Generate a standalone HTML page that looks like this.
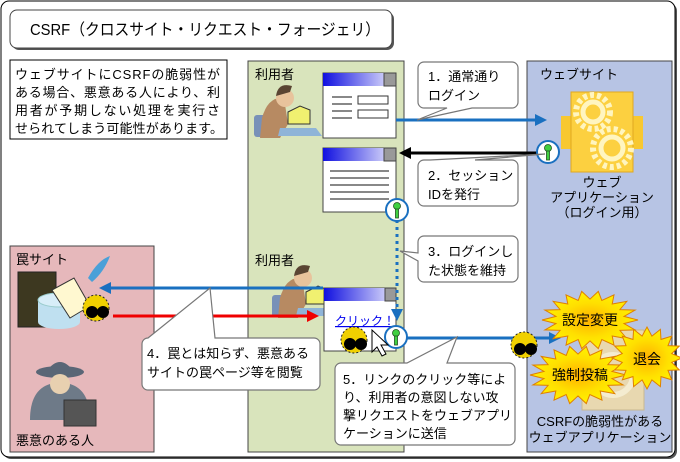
<!DOCTYPE html>
<html><head><meta charset="utf-8"><style>
*{margin:0;padding:0}
body{width:680px;height:462px;overflow:hidden;background:#fff;font-family:"Liberation Sans","Noto Sans CJK JP",sans-serif;}
svg{position:absolute;left:0;top:0}
text{font-family:"Liberation Sans","Noto Sans CJK JP",sans-serif;fill:#000}
</style></head><body>
<svg width="680" height="462" viewBox="0 0 680 462" id="s">
<defs>
<linearGradient id="tb" x1="0" x2="1"><stop offset="0" stop-color="#1010e0"/><stop offset="1" stop-color="#c8c8f8"/></linearGradient>
<radialGradient id="bg"><stop offset="0" stop-color="#ffb000"/><stop offset="0.6" stop-color="#ffe000"/><stop offset="1" stop-color="#fff200"/></radialGradient>
<marker id="ab" markerWidth="4" markerHeight="4" refX="3" refY="2" orient="auto" markerUnits="strokeWidth"><path d="M0,0L4,2L0,4z" fill="#1a70c0"/></marker>
<marker id="ak" markerWidth="4" markerHeight="4" refX="3" refY="2" orient="auto" markerUnits="strokeWidth"><path d="M0,0L4,2L0,4z" fill="#000"/></marker>
<marker id="ar" markerWidth="4" markerHeight="4" refX="3" refY="2" orient="auto" markerUnits="strokeWidth"><path d="M0,0L4,2L0,4z" fill="#f00000"/></marker>
<g id="key"><circle cx="0" cy="0" r="11" fill="#fff" stroke="#1a70c0" stroke-width="2"/><circle cx="0" cy="-4" r="3.5" fill="#40d040" stroke="#205020" stroke-width="0.8"/><rect x="-1.5" y="-1" width="3" height="9" fill="#40d040" stroke="#205020" stroke-width="0.8"/></g>
<g id="bug"><circle cx="0" cy="0" r="13" fill="#f0d000" stroke="#222" stroke-dasharray="2 2"/><circle cx="-4" cy="4" r="6" fill="#000"/><circle cx="7" cy="4" r="6" fill="#000"/></g>
</defs>
<rect x="3" y="3" width="674" height="456" rx="8" fill="#555"/>
<rect x="1" y="1" width="674" height="456" rx="8" fill="#fff" stroke="#000" stroke-width="1"/>
<rect x="12" y="12" width="382" height="38" rx="7" fill="#555"/>
<rect x="10" y="10" width="382" height="38" rx="7" fill="#fff" stroke="#444"/>
<text x="30" y="35" font-size="16" textLength="350" lengthAdjust="spacingAndGlyphs">CSRF（クロスサイト・リクエスト・フォージェリ）</text>
<rect x="10" y="60" width="217" height="79" fill="#fff" stroke="#000"/>
<text font-size="13"><tspan x="15" y="79" textLength="205">ウェブサイトにCSRFの脆弱性が</tspan><tspan x="15" y="97" textLength="205">ある場合、悪意ある人により、利</tspan><tspan x="15" y="115" textLength="205">用者が予期しない処理を実行さ</tspan><tspan x="15" y="133" textLength="208">せられてしまう可能性があります。</tspan></text>
<rect x="248" y="61" width="156" height="391" fill="#d9e4bc" stroke="#444"/>
<rect x="527" y="61" width="145" height="391" fill="#b7c4e4" stroke="#444"/>
<rect x="10" y="246" width="144" height="206" fill="#e6b8bb" stroke="#444"/>
<text x="255" y="79" font-size="13">利用者</text>
<text x="255" y="265" font-size="13">利用者</text>
<text x="540" y="79" font-size="13">ウェブサイト</text>
<text x="16" y="264" font-size="13">罠サイト</text>
<text x="16" y="445" font-size="13">悪意のある人</text>
<g id="user">
<rect x="254" y="115" width="14" height="22" rx="3" fill="#7891b8"/>
<path d="M262,118 q6,-22 22,-20 l4,26 l-8,14 l-20,0z" fill="#b78a62"/>
<circle cx="285" cy="98" r="9" fill="#e8c39c"/><path d="M276,96 q2,-14 16,-10 l-2,6z" fill="#5a4533"/>
<path d="M288,112 l12,-6 l10,4 l0,14 l-22,0z" fill="#f0f070" stroke="#333"/>
<path d="M280,128 l36,0 l6,8 l-44,0z" fill="#8fb4d8"/>
</g>
<use href="#user" transform="translate(18,180)"/>
<g><rect x="323" y="73" width="73" height="65" fill="#fff" stroke="#444"/><rect x="323" y="73" width="61" height="13" fill="url(#tb)"/><rect x="384" y="73" width="12" height="13" fill="#999" stroke="#444"/>
<g stroke="#888" stroke-width="2"><line x1="332" y1="97" x2="352" y2="97"/><line x1="332" y1="104" x2="352" y2="104"/><line x1="332" y1="111" x2="352" y2="111"/><line x1="332" y1="118" x2="352" y2="118"/></g>
<rect x="358" y="96" width="30" height="8" fill="#fff" stroke="#333"/><rect x="358" y="110" width="30" height="8" fill="#fff" stroke="#333"/></g>
<g><rect x="323" y="148" width="73" height="64" fill="#fff" stroke="#444"/><rect x="323" y="148" width="61" height="13" fill="url(#tb)"/><rect x="384" y="148" width="12" height="13" fill="#999" stroke="#444"/>
<g stroke="#888" stroke-width="2"><line x1="330" y1="171" x2="389" y2="171"/><line x1="330" y1="178" x2="389" y2="178"/><line x1="330" y1="185" x2="389" y2="185"/><line x1="330" y1="192" x2="389" y2="192"/><line x1="330" y1="199" x2="389" y2="199"/></g></g>
<g><rect x="324" y="288" width="72" height="63" fill="#fff" stroke="#444"/><rect x="324" y="288" width="61" height="13" fill="url(#tb)"/><rect x="385" y="288" width="11" height="13" fill="#999" stroke="#444"/>
<text x="335" y="325" font-size="12" style="fill:#0000ee" text-decoration="underline">クリック！</text></g>
<rect x="561" y="116" width="10" height="33" fill="#f8c830"/><rect x="633" y="116" width="10" height="33" fill="#f8c830"/>
<rect x="571" y="92" width="62" height="80" fill="#fcd040" stroke="#e0a820"/>
<circle cx="593" cy="112" r="17" fill="none" stroke="#fff5c0" stroke-width="6" stroke-dasharray="4 3"/><circle cx="593" cy="112" r="10" fill="none" stroke="#fff5c0" stroke-width="5"/>
<circle cx="612" cy="148" r="19" fill="none" stroke="#fff5c0" stroke-width="6" stroke-dasharray="4 3"/><circle cx="612" cy="148" r="11" fill="none" stroke="#fff5c0" stroke-width="5"/>
<text font-size="13" text-anchor="middle"><tspan x="602" y="187">ウェブ</tspan><tspan x="602" y="202">アプリケーション</tspan><tspan x="602" y="217">（ログイン用）</tspan></text>
<rect x="582" y="330" width="62" height="80" fill="#e8d8b0" stroke="#c8b890"/>
<circle cx="613" cy="375" r="20" fill="none" stroke="#f4ecd0" stroke-width="6"/>
<text font-size="13" text-anchor="middle"><tspan x="600" y="426">CSRFの脆弱性がある</tspan><tspan x="600" y="442">ウェブアプリケーション</tspan></text>
<rect x="18" y="272" width="38" height="55" fill="#3d3820" stroke="#222"/>
<ellipse cx="59" cy="322" rx="21" ry="7" fill="#bfe0f0"/><rect x="38" y="300" width="42" height="22" fill="#bfe0f0"/><ellipse cx="59" cy="300" rx="21" ry="7" fill="#d8eef8" stroke="#9cc"/>
<path d="M52,290 l22,-12 l16,28 l-20,12z" fill="#fff8d0" stroke="#333"/>
<path d="M88,278 q10,-18 22,-22 q-6,16 -18,26z" fill="#4aa0d8"/>
<path d="M30,420 q0,-30 20,-36 l20,0 q20,6 20,36z" fill="#6e7a88"/>
<ellipse cx="60" cy="372" rx="24" ry="6" fill="#5a6676"/><path d="M46,372 q14,-20 28,0z" fill="#5a6676"/>
<ellipse cx="60" cy="384" rx="10" ry="10" fill="#e8d0b0"/>
<rect x="64" y="400" width="32" height="26" fill="#555" stroke="#333"/>
<line x1="396" y1="120" x2="544" y2="120" stroke="#1a70c0" stroke-width="3" marker-end="url(#ab)"/>
<line x1="540" y1="153" x2="402" y2="153" stroke="#000" stroke-width="3" marker-end="url(#ak)"/>
<line x1="397" y1="220" x2="397" y2="318" stroke="#1a70c0" stroke-width="3" stroke-dasharray="3 4" marker-end="url(#ab)"/>
<line x1="323" y1="288" x2="102" y2="288" stroke="#1a70c0" stroke-width="3" marker-end="url(#ab)"/>
<line x1="113" y1="316" x2="316" y2="316" stroke="#f00000" stroke-width="3" marker-end="url(#ar)"/>
<line x1="405" y1="338" x2="558" y2="338" stroke="#1a70c0" stroke-width="3" marker-end="url(#ab)"/>
<use href="#key" x="548" y="152"/><use href="#key" x="397" y="210"/><use href="#key" x="396" y="337"/>
<use href="#bug" x="96" y="308"/><use href="#bug" x="354" y="340"/><use href="#bug" x="524" y="345"/>
<path d="M372,330 l0,22 l5,-5 l5,9 l4,-2 l-5,-9 l7,0z" fill="#fff" stroke="#000"/>
<g fill="#fff" stroke="#777" stroke-width="1.2">
<path d="M424,62 h88 a6,6 0 0 1 6,6 v34 a6,6 0 0 1 -6,6 h-40 l-55,12 l30,-12 h-23 a6,6 0 0 1 -6,-6 v-34 a6,6 0 0 1 6,-6z"/>
<path d="M424,160 h6 l115,-6 l-70,6 h37 a6,6 0 0 1 6,6 v34 a6,6 0 0 1 -6,6 h-88 a6,6 0 0 1 -6,-6 v-34 a6,6 0 0 1 6,-6z"/>
<path d="M424,236 h88 a6,6 0 0 1 6,6 v34 a6,6 0 0 1 -6,6 h-88 a6,6 0 0 1 -6,-6 v-15 l-18,-10 l18,2 v-11 a6,6 0 0 1 6,-6z"/>
<path d="M148,338 l62,-50 l5,50 h99 a6,6 0 0 1 6,6 v40 a6,6 0 0 1 -6,6 h-166 a6,6 0 0 1 -6,-6 v-40 a6,6 0 0 1 6,-6z"/>
<path d="M341,363 h66 l50,-26 l-10,26 h62 a6,6 0 0 1 6,6 v70 a6,6 0 0 1 -6,6 h-168 a6,6 0 0 1 -6,-6 v-70 a6,6 0 0 1 6,-6z"/>
</g>
<text font-size="13"><tspan x="428" y="81">1．通常通り</tspan><tspan x="428" y="100">ログイン</tspan></text>
<text font-size="13"><tspan x="428" y="180">2．セッション</tspan><tspan x="428" y="199">IDを発行</tspan></text>
<text font-size="13"><tspan x="428" y="256">3．ログインし</tspan><tspan x="428" y="275">た状態を維持</tspan></text>
<text font-size="13"><tspan x="147" y="358">4．罠とは知らず、悪意ある</tspan><tspan x="147" y="377">サイトの罠ページ等を閲覧</tspan></text>
<text font-size="13"><tspan x="343" y="384">5．リンクのクリック等によ</tspan><tspan x="343" y="402">り、利用者の意図しない攻</tspan><tspan x="343" y="420">撃リクエストをウェブアプリ</tspan><tspan x="343" y="438">ケーションに送信</tspan></text>
<g id="bursts"></g>
<text font-size="14" text-anchor="middle" x="590" y="325">設定変更</text>
<text font-size="14" text-anchor="middle" x="647" y="364">退会</text>
<text font-size="14" text-anchor="middle" x="580" y="380">強制投稿</text>
</svg>
<script>
function burst(cx,cy,rx,ry,n){var p=[];for(var i=0;i<n*2;i++){var a=Math.PI*i/n,f=i%2?0.72:1;p.push((cx+Math.cos(a)*rx*f).toFixed(1)+","+(cy+Math.sin(a)*ry*f).toFixed(1));}return p.join(" ");}
var g=document.getElementById("bursts"),ns="http://www.w3.org/2000/svg";
[[590,320,48,29,18],[578,375,48,29,18],[647,358,35,31,16]].forEach(function(b){var e=document.createElementNS(ns,"polygon");e.setAttribute("points",burst.apply(null,b));e.setAttribute("fill","url(#bg)");e.setAttribute("stroke","#e08000");g.appendChild(e);});
</script>
</body></html>
